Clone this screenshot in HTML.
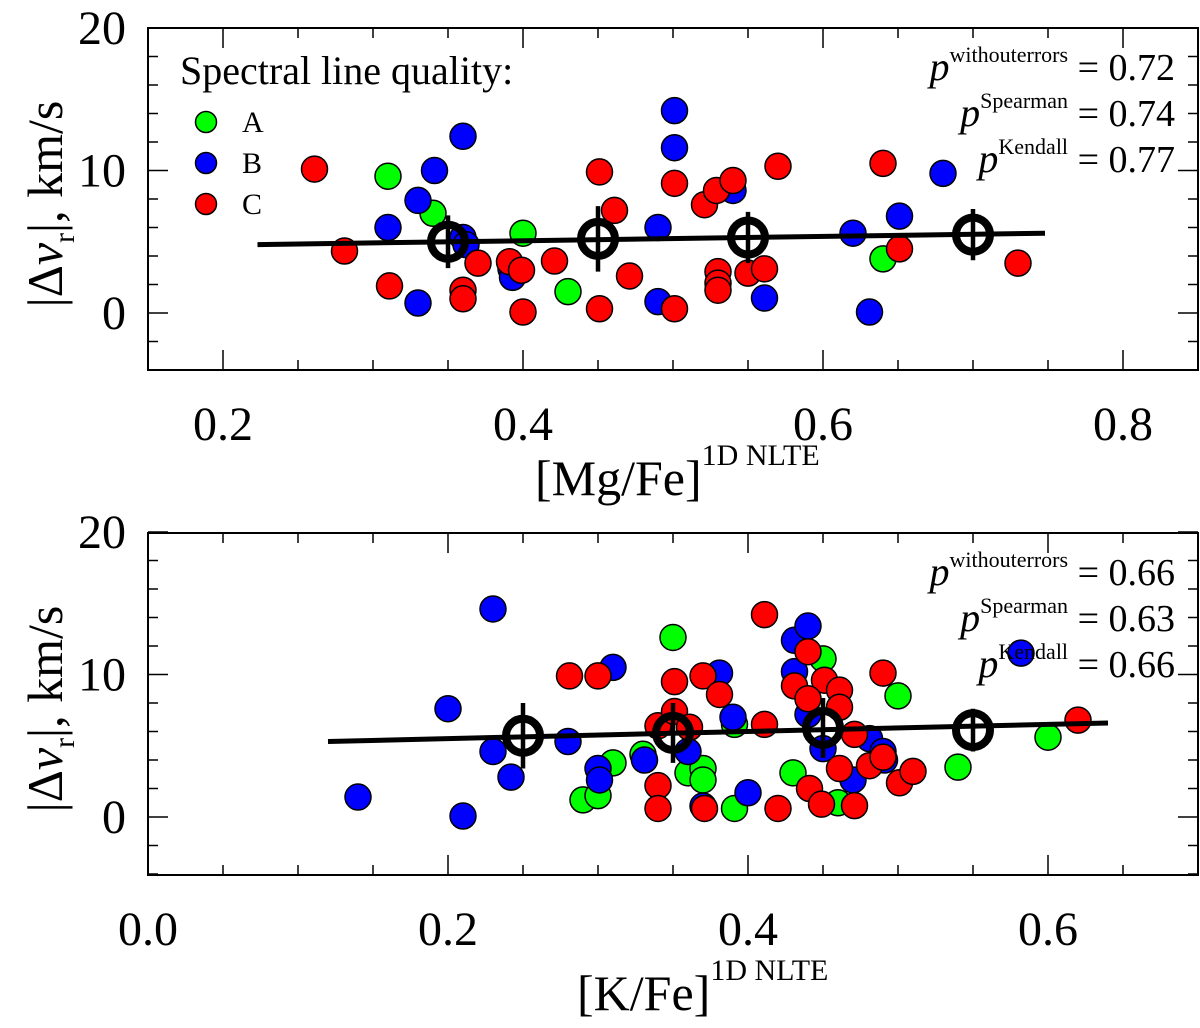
<!DOCTYPE html>
<html><head><meta charset="utf-8"><style>
body{margin:0;background:#fff}
svg, svg text{font-family:"Liberation Serif","Times New Roman",serif}
svg text{fill:#000}
</style></head><body>
<svg id="chart" width="1200" height="1023" viewBox="0 0 1200 1023" font-family="Liberation Serif, serif" xmlns="http://www.w3.org/2000/svg"></svg>
<script>
// Top panel data
const topAx=[0.31,0.34,0.40,0.43,0.64];
const topAy=[9.6,7.0,5.6,1.5,3.8];
const topBx=[0.31,0.33,0.341,0.36,0.33,0.36,0.362,0.392,0.393,0.49,0.49,0.501,0.501,0.54,0.561,0.62,0.631,0.651,0.68];
const topBy=[6.0,7.9,10.0,12.4,0.7,5.3,4.8,3.1,2.5,6.0,0.8,14.2,11.6,8.6,1.05,5.6,0.07,6.8,9.8];
const topCx=[0.261,0.281,0.311,0.36,0.36,0.37,0.391,0.399,0.40,0.421,0.451,0.461,0.451,0.471,0.501,0.501,0.521,0.529,0.54,0.53,0.53,0.53,0.55,0.561,0.57,0.64,0.651,0.73];
const topCy=[10.1,4.35,1.9,1.6,1.0,3.5,3.6,3.0,0.07,3.65,9.9,7.2,0.3,2.6,9.1,0.3,7.6,8.6,9.3,2.9,2.1,1.6,2.8,3.1,10.3,10.5,4.5,3.5];
const topMeanX=[0.35,0.45,0.55,0.70];
const topMeanY=[5.0,5.2,5.3,5.5];
const topMeanErr=[1.85,2.3,1.8,1.8];
const topFitX=[0.223,0.748];
const topFitY=[4.8,5.6];
const topXTicks=[0.2,0.4,0.6,0.8];
const topStats=["0.72","0.74","0.77"];
// Bottom panel data
const botAx=[0.29,0.30,0.31,0.33,0.35,0.36,0.37,0.37,0.391,0.391,0.43,0.45,0.46,0.50,0.54,0.60];
const botAy=[1.2,1.5,3.8,4.4,12.6,3.1,3.4,2.6,6.5,0.6,3.1,11.1,1.0,8.5,3.5,5.6];
const botBx=[0.14,0.20,0.21,0.23,0.23,0.242,0.28,0.30,0.301,0.31,0.331,0.36,0.37,0.381,0.39,0.40,0.431,0.431,0.44,0.44,0.45,0.47,0.481,0.49,0.491,0.582];
const botBy=[1.4,7.6,0.07,14.6,4.6,2.8,5.3,3.4,2.6,10.5,4.0,4.6,0.77,10.1,7.0,1.7,10.2,12.4,13.4,7.2,4.8,2.6,5.5,4.6,4.0,11.5];
const botCx=[0.281,0.30,0.34,0.34,0.34,0.351,0.351,0.361,0.37,0.371,0.381,0.411,0.411,0.42,0.431,0.44,0.451,0.44,0.441,0.449,0.461,0.461,0.461,0.471,0.471,0.481,0.49,0.49,0.501,0.51,0.62];
const botCy=[9.9,9.9,6.4,2.2,0.6,7.4,9.5,6.3,9.9,0.6,8.6,14.2,6.5,0.6,9.2,11.6,9.6,8.3,2.0,0.9,8.9,7.7,3.4,5.8,0.8,3.6,10.1,4.2,2.4,3.2,6.8];
const botMeanX=[0.25,0.35,0.45,0.55];
const botMeanY=[5.7,5.9,6.25,6.1];
const botMeanErr=[2.3,2.1,2.1,1.5];
const botFitX=[0.12,0.64];
const botFitY=[5.3,6.6];
const botXTicks=[0.0,0.2,0.4,0.6];
const botStats=["0.66","0.63","0.66"];
const yTicks=[0,10,20];

const NS="http://www.w3.org/2000/svg";
const svg=document.getElementById('chart');
function mk(tag,attrs,parent){const e=document.createElementNS(NS,tag);for(const k in attrs)e.setAttribute(k,attrs[k]);if(tag==='text')e.setAttribute('font-family','Liberation Serif, serif');(parent||svg).appendChild(e);return e;}

function panel(cfg){
  const L=148,R=1198,T=cfg.top,B=cfg.top+342;
  const sx=v=>L+(v-cfg.x0)*1500;
  const sy=v=>cfg.y0px-v*14.25;
  const g=mk('g',{});
  
  
  for(let v=-4;v<=20.01;v+=2){
    const y=sy(v);const major=Math.abs(v%10)<0.01;
    const t=mk('line',{x1:L,x2:L+(major?20:10),y1:y,y2:y,stroke:'#000','stroke-width':1.5},g);
    
    const t2=mk('line',{x1:R,x2:R-(major?20:10),y1:y,y2:y,stroke:'#000','stroke-width':1.5},g);
    
  }
  for(let v=Math.ceil(cfg.x0/0.05)*0.05;sx(v)<=R+0.5;v+=0.05){
    const x=sx(v);const major=Math.abs(Math.round(v*10)-v*10)<0.01 && Math.round(v*10)%2===0;
    const t=mk('line',{x1:x,x2:x,y1:B,y2:B-(major?20:10),stroke:'#000','stroke-width':1.5},g);
    
    const t2=mk('line',{x1:x,x2:x,y1:T,y2:T+(major?20:10),stroke:'#000','stroke-width':1.5},g);
    
  }
  const frame=mk('rect',{x:L,y:T,width:R-L,height:B-T,fill:'none',stroke:'#000','stroke-width':2},g);
  
  yTicks.forEach(v=>{const t=mk('text',{x:L-22,y:sy(v)+16,'font-size':48,'text-anchor':'end'},g);t.textContent=v;
    });
  cfg.xticks.forEach(v=>{const t=mk('text',{x:sx(v),y:B+70,'font-size':48,'text-anchor':'middle'},g);t.textContent=v.toFixed(1);
    });
  const yt=mk('text',{transform:`translate(62,${(T+B)/2+5}) rotate(-90)`,'font-size':50,'text-anchor':'middle'},g);
  yt.innerHTML='|Δ<tspan font-style="italic">v</tspan><tspan font-size="30" dy="12">r</tspan><tspan dy="-12">|, km/s</tspan>';
  
  const xt=mk('text',{x:cfg.xtX,y:B+cfg.xtDy,'font-size':50,'text-anchor':'start'},g);
  xt.innerHTML=cfg.xtitle+'<tspan font-size="30" dy="-30">1D NLTE</tspan>';
  
  [[cfg.Ax,cfg.Ay,'#00ff00','point-a'],[cfg.Bx,cfg.By,'#0000ff','point-b'],[cfg.Cx,cfg.Cy,'#ff0000','point-c']].forEach(([xs,ys,c,n])=>{
    xs.forEach((v,i)=>{const p=mk('circle',{cx:sx(v),cy:sy(ys[i]),r:13,fill:c,stroke:'#000','stroke-width':1.5},g);
      });
  });
  const fit=mk('line',{x1:sx(cfg.fx[0]),y1:sy(cfg.fy[0]),x2:sx(cfg.fx[1]),y2:sy(cfg.fy[1]),stroke:'#000','stroke-width':5},g);
  
  cfg.mx.forEach((v,i)=>{
    const e=mk('line',{x1:sx(v),x2:sx(v),y1:sy(cfg.my[i]+cfg.me[i]),y2:sy(cfg.my[i]-cfg.me[i]),stroke:'#000','stroke-width':4.5},g);
    
    const c=mk('circle',{cx:sx(v),cy:sy(cfg.my[i]),r:17,fill:'none',stroke:'#000','stroke-width':8},g);
    
  });
  const sups=['withouterrors','Spearman','Kendall'];
  cfg.stats.forEach((s,i)=>{
    const t=mk('text',{x:1175,y:T+52+i*46,'font-size':38,'text-anchor':'end'},g);
    t.innerHTML='<tspan font-style="italic" font-size="40">p</tspan><tspan font-size="22" dy="-18">'+sups[i]+'</tspan><tspan dy="18"> = '+s+'</tspan>';
    
  });
}
panel({name:'mg-panel',top:28,y0px:313,x0:0.15,xticks:topXTicks,xtitle:'[Mg/Fe]',xtX:535,xtDy:125,
  Ax:topAx,Ay:topAy,Bx:topBx,By:topBy,Cx:topCx,Cy:topCy,mx:topMeanX,my:topMeanY,me:topMeanErr,fx:topFitX,fy:topFitY,stats:topStats});
panel({name:'k-panel',top:533,y0px:817,x0:0.0,xticks:botXTicks,xtitle:'[K/Fe]',xtX:577,xtDy:135,
  Ax:botAx,Ay:botAy,Bx:botBx,By:botBy,Cx:botCx,Cy:botCy,mx:botMeanX,my:botMeanY,me:botMeanErr,fx:botFitX,fy:botFitY,stats:botStats});
const lg=mk('g',{});


const lt=mk('text',{x:180,y:84,'font-size':40},lg);lt.textContent='Spectral line quality:';

[['A','#00ff00',122],['B','#0000ff',163],['C','#ff0000',204]].forEach(([n,c,y])=>{
  const m=mk('circle',{cx:206,cy:y,r:10.5,fill:c,stroke:'#000','stroke-width':1.5},lg);
  
  const t=mk('text',{x:242,y:y+10,'font-size':30},lg);t.textContent=n;
  
});
</script>
</body></html>
